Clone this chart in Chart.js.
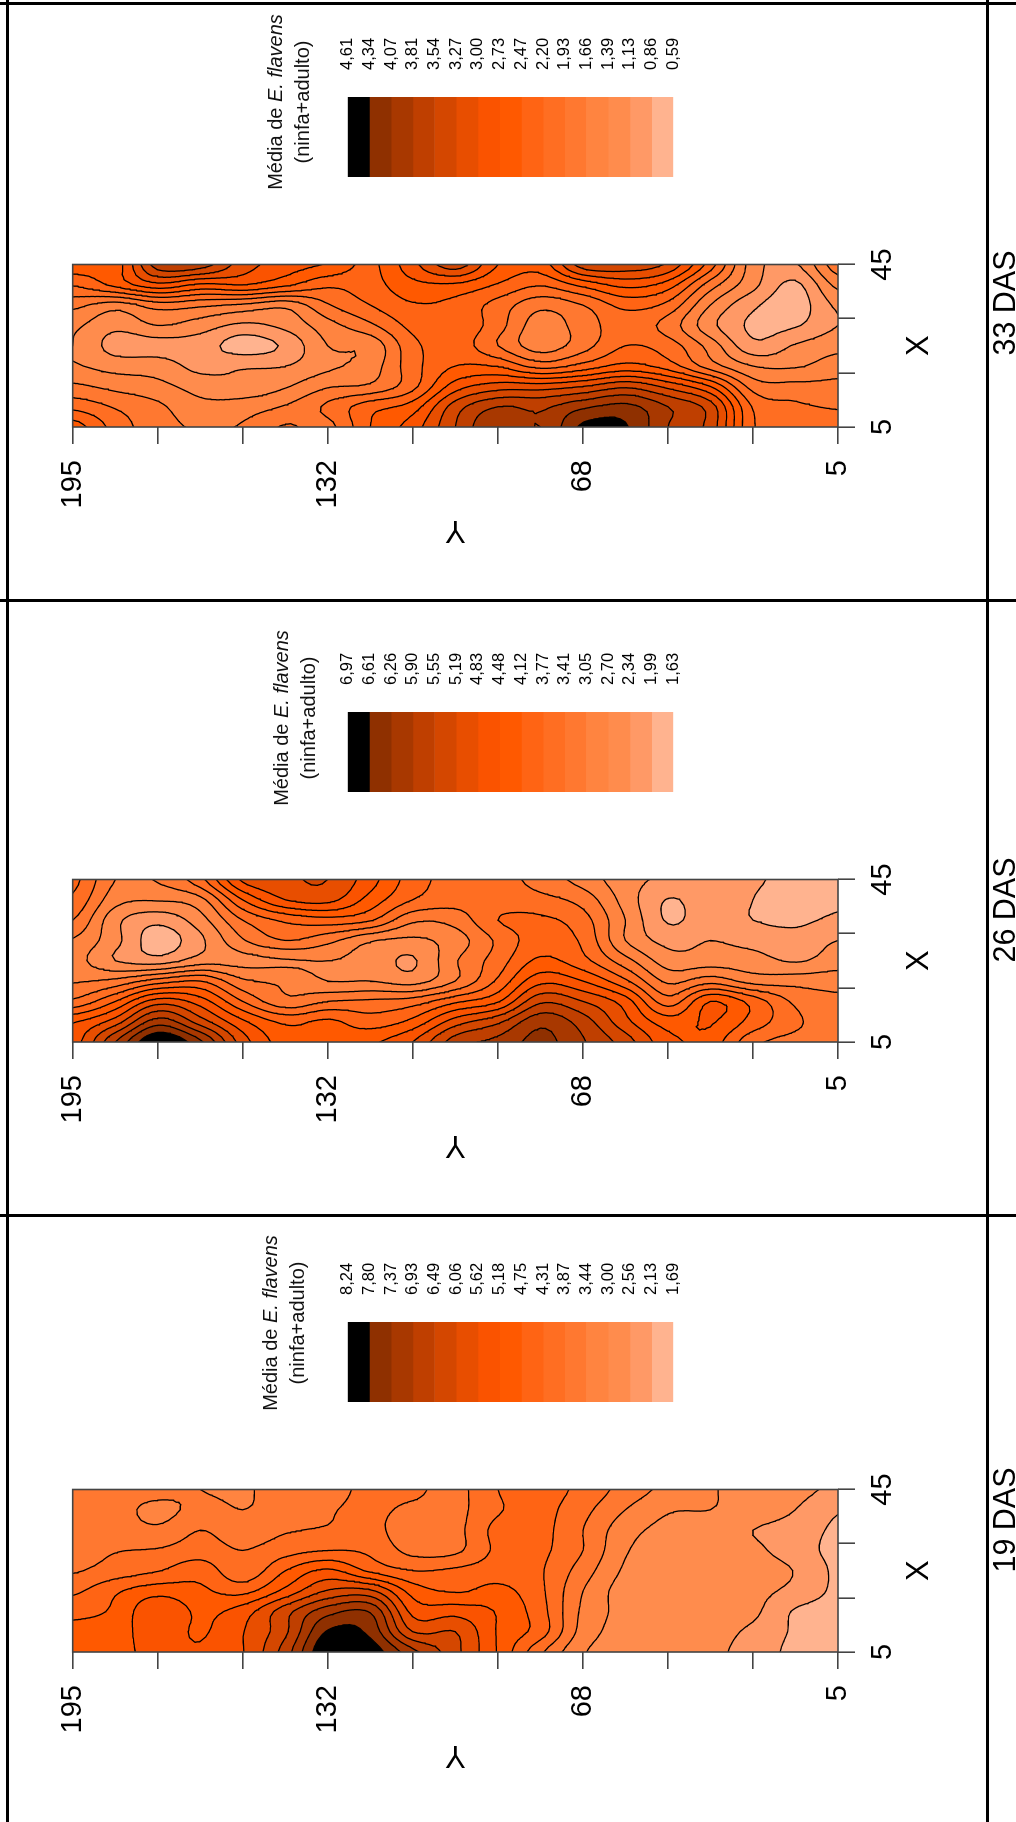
<!DOCTYPE html>
<html>
<head>
<meta charset="utf-8">
<title>Média de E. flavens</title>
<script src="https://cdn.jsdelivr.net/npm/chart.js@4/dist/chart.umd.min.js"></script>
<style>
    html, body { margin: 0; padding: 0; background: #fff; width: 1016px; height: 1822px; overflow: hidden; }
    #stage { position: absolute; left: 0; top: 0; width: 1822px; height: 1016px; transform-origin: 0 0; transform: translateY(1822px) rotate(-90deg); font-family: "Liberation Sans", Arial, sans-serif; color: #000; overflow: hidden; }
    #stage canvas { position: absolute; top: 0; }
    .rule { position: absolute; background: #000; }
    .legendTitle { position: absolute; width: 240px; text-align: center; font-size: 20px; line-height: 27px; color: #111; }
    .das { position: absolute; top: 987px; width: 200px; text-align: center; font-size: 30.5px; line-height: 34px; }
</style>
</head>
<body>
<div id="stage"></div>
<script>
// Station positions of the map grid
const xStations = [45, 40, 35, 30, 25, 20, 15, 10, 5];
const yStations = [195, 184.4, 173.9, 163.3, 152.8, 142.2, 131.7, 121.1, 110.6, 100, 89.4, 78.9, 68.3, 57.8, 47.2, 36.7, 26.1, 15.6, 5];

// Axis ticks
const xTicks = [5, 18.3, 31.7, 45];
const xTickLabels = [5, 45];
const yTicks = [195, 173.9, 152.8, 131.7, 110.6, 89.4, 68.3, 47.2, 26.1, 5];
const yTickLabels = [195, 132, 68, 5];

// Legend classes, black on top
const classColors = ['#000000', '#8f3000', '#a83800', '#bf3f00', '#d44700', '#e84e00', '#fa5300', '#ff5900', '#ff6414', '#ff6e22', '#ff7830', '#ff8440', '#ff8c4d', '#ff9966', '#ffb38f'];
const labels19 = ['8,24', '7,80', '7,37', '6,93', '6,49', '6,06', '5,62', '5,18', '4,75', '4,31', '3,87', '3,44', '3,00', '2,56', '2,13', '1,69'];
const labels26 = ['6,97', '6,61', '6,26', '5,90', '5,55', '5,19', '4,83', '4,48', '4,12', '3,77', '3,41', '3,05', '2,70', '2,34', '1,99', '1,63'];
const labels33 = ['4,61', '4,34', '4,07', '3,81', '3,54', '3,27', '3,00', '2,73', '2,47', '2,20', '1,93', '1,66', '1,39', '1,13', '0,86', '0,59'];

// Position on the legend scale (0 = lowest label, 15 = highest).
// One row per xStation, one column per yStation.
const das19 = [
    [4.5, 4.5, 4.4, 4.0, 3.9, 4.4, 4.7, 5.2, 5.2, 4.7, 6.0, 6.4, 5.7, 4.6, 3.7, 3.1, 2.6, 2.3, 1.8],
    [4.5, 4.4, 3.7, 4.3, 4.0, 4.4, 4.9, 5.2, 4.8, 4.7, 5.9, 6.3, 5.3, 4.0, 3.1, 3.0, 2.5, 2.0, 1.1],
    [4.6, 4.5, 4.2, 5.0, 4.4, 4.9, 5.1, 5.3, 4.4, 4.7, 6.3, 6.3, 5.0, 3.4, 2.7, 2.4, 2.0, 1.6, 0.8],
    [4.6, 4.95, 5.1, 5.5, 5.0, 5.6, 6.0, 5.8, 4.7, 4.8, 6.2, 6.2, 5.0, 3.1, 2.6, 2.4, 2.2, 1.5, 0.7],
    [4.9, 5.45, 5.95, 6.6, 5.3, 7.0, 8.2, 6.8, 6.0, 6.2, 6.5, 6.1, 4.5, 2.85, 2.55, 2.4, 2.5, 1.95, 0.8],
    [5.8, 6.85, 7.6, 7.2, 6.7, 8.3, 10.1, 10.2, 7.6, 6.9, 7.3, 6.2, 4.0, 2.6, 2.7, 2.5, 2.3, 1.7, 0.8],
    [6.7, 7.2, 8.9, 7.8, 8.5, 10.6, 12.6, 12.9, 8.7, 8.6, 7.9, 6.4, 3.8, 2.7, 2.5, 2.4, 2.2, 0.9, 0.6],
    [7.3, 7.6, 8.5, 7.9, 8.95, 10.8, 14.1, 13.7, 10, 10, 7.9, 6.5, 3.6, 2.6, 2.3, 2.3, 1.8, 0.85, 0.4],
    [7.5, 7.7, 8.3, 8.1, 8.95, 11.5, 15, 14.6, 12.3, 10.3, 7.9, 5.2, 3.1, 2.5, 2.3, 2.2, 1.6, 0.7, 0.3]
];
const das26 = [
    [6.3, 4.0, 4.1, 5.7, 9.2, 9.8, 10.0, 8.4, 6.5, 5.6, 5.4, 4.6, 3.6, 2.4, 1.8, 1.6, 1.15, 0.7, 0.6],
    [5.8, 3.4, 3.1, 3.7, 7.0, 9.0, 9.3, 7.6, 6.0, 5.4, 5.5, 5.3, 4.6, 2.6, 0.95, 1.6, 1.0, 0.5, 0.8],
    [5.0, 2.3, 1.3, 2.6, 5.0, 6.2, 6.6, 6.1, 4.2, 4.4, 6.0, 6.2, 5.4, 3.0, 0.9, 1.6, 1.0, 0.8, 1.2],
    [3.9, 2.3, 0.5, 1.8, 3.9, 5.0, 4.3, 3.1, 2.8, 3.5, 5.2, 6.5, 5.8, 3.0, 1.7, 2.0, 1.7, 1.4, 2.0],
    [3.4, 2.0, 1.5, 2.5, 2.7, 2.9, 3.0, 2.6, 1.9, 3.9, 5.5, 7.2, 6.3, 4.4, 2.5, 2.5, 2.4, 1.9, 2.5],
    [3.9, 4.3, 5.5, 6.0, 4.2, 3.8, 3.0, 3.0, 2.6, 4.0, 6.2, 8.7, 8.0, 6.2, 3.8, 4.6, 3.6, 3.6, 3.6],
    [5.2, 7.0, 9.5, 8.5, 6.0, 4.3, 5.0, 5.2, 5.5, 6.8, 7.9, 10.8, 10.0, 8.5, 5.5, 8.0, 6.6, 4.8, 4.2],
    [7.9, 9.5, 12.5, 10.5, 8.2, 6.8, 7.2, 6.5, 7.3, 9.5, 10.8, 12.7, 11.5, 9.3, 7.5, 8.1, 6.6, 5.2, 4.4],
    [8.5, 12, 15, 13.2, 9.5, 7.5, 7.2, 7.8, 9.0, 11.5, 12.3, 13.3, 12.1, 10.5, 8.3, 7.6, 5.3, 4.7, 4.9]
];
const das33 = [
    [7.6, 7.5, 11.5, 11.5, 9.5, 8.5, 7.9, 6.8, 8.7, 10.5, 8.0, 7.5, 10.5, 10.6, 9.8, 6.5, 2.5, 1.9, 4.6],
    [6.1, 7.3, 8.7, 7.8, 8.0, 7.2, 6.2, 6.6, 7.7, 7.8, 6.9, 6.1, 7.3, 8.3, 7.5, 4.5, 2.3, 0.8, 3.3],
    [4.3, 3.5, 4.5, 4.2, 3.8, 3.3, 4.9, 6.0, 6.9, 6.7, 5.6, 4.3, 5.0, 6.3, 5.7, 3.0, 1.2, 0.5, 2.2],
    [3.2, 2.3, 3.0, 2.5, 1.8, 2.3, 3.6, 4.8, 6.3, 6.8, 5.4, 3.5, 4.5, 5.5, 4.6, 2.3, 0.8, 0.9, 2.0],
    [3.0, 1.6, 1.6, 1.5, 0.5, 1.2, 3.0, 3.3, 5.7, 6.5, 5.0, 3.5, 4.6, 6.0, 5.5, 3.6, 1.3, 2.1, 2.7],
    [3.1, 2.6, 2.5, 1.7, 1.9, 2.0, 2.8, 3.5, 5.6, 7.0, 6.9, 5.6, 6.4, 7.3, 6.5, 4.5, 3.0, 2.9, 3.5],
    [4.2, 3.7, 3.3, 2.6, 2.3, 2.9, 3.9, 4.2, 5.7, 8.5, 9.5, 9.5, 10.0, 10.8, 9.7, 8.0, 4.6, 4.3, 4.3],
    [5.7, 4.9, 4.2, 3.3, 3.5, 4.1, 5.2, 6.6, 7.5, 10.5, 12.0, 11.8, 12.8, 13.3, 12.0, 10.5, 5.9, 5.2, 4.9],
    [7.5, 5.6, 4.4, 3.9, 4.1, 5.1, 4.7, 7.0, 8.5, 11.0, 13.0, 12.0, 14.2, 14.1, 12.0, 10.6, 6.1, 5.7, 5.5]
];

const panels = [
    { name: '19 DAS', grid: das19, labels: labels19, plotLeft: 170, titleX: 499, titleTop: 257, dasX: 302 },
    { name: '26 DAS', grid: das26, labels: labels26, plotLeft: 780, titleX: 1104, titleTop: 268, dasX: 912 },
    { name: '33 DAS', grid: das33, labels: labels33, plotLeft: 1395, titleX: 1720, titleTop: 262, dasX: 1519 }
];

const stage = document.getElementById('stage');
const axisColor = '#444444';
const fontFamily = '"Liberation Sans", Arial, sans-serif';

function catmull(p0, p1, p2, p3, t) {
    return p1 + 0.5 * t * (p2 - p0 + t * (2 * p0 - 5 * p1 + 4 * p2 - p3 + t * (3 * (p1 - p2) + p3 - p0)));
}

// Smooth the station grid so contours do not come out angular
function refine(grid, subRow, subCol) {
    const rows = grid.length, cols = grid[0].length;
    const at = (r, c) => grid[Math.max(0, Math.min(rows - 1, r))][Math.max(0, Math.min(cols - 1, c))];
    const out = [];
    for (let r = 0; r <= (rows - 1) * subRow; r++) {
        const r0 = Math.min(Math.floor(r / subRow), rows - 2), tr = r / subRow - r0;
        const row = [];
        for (let c = 0; c <= (cols - 1) * subCol; c++) {
            const c0 = Math.min(Math.floor(c / subCol), cols - 2), tc = c / subCol - c0;
            const k = [-1, 0, 1, 2].map(dr => catmull(at(r0 + dr, c0 - 1), at(r0 + dr, c0), at(r0 + dr, c0 + 1), at(r0 + dr, c0 + 2), tc));
            row.push({
                x: xStations[r0] + (xStations[r0 + 1] - xStations[r0]) * tr,
                y: yStations[c0] + (yStations[c0 + 1] - yStations[c0]) * tc,
                v: catmull(k[0], k[1], k[2], k[3], tr) + 1e-5
            });
        }
        out.push(row);
    }
    return out;
}

function eachTriangle(fine, fn) {
    for (let r = 0; r < fine.length - 1; r++) {
        for (let c = 0; c < fine[0].length - 1; c++) {
            const a = fine[r][c], b = fine[r][c + 1], d = fine[r + 1][c], e = fine[r + 1][c + 1];
            fn(a, b, e);
            fn(a, e, d);
        }
    }
}

function crossing(p, q, level) {
    const t = (level - p.v) / (q.v - p.v);
    return { x: p.x + (q.x - p.x) * t, y: p.y + (q.y - p.y) * t };
}

// One broken line per legend boundary
function contourDatasets(fine) {
    const sets = [];
    for (let level = 1; level < 15; level++) sets.push([]);
    eachTriangle(fine, (a, b, c) => {
        const lo = Math.min(a.v, b.v, c.v), hi = Math.max(a.v, b.v, c.v);
        for (let level = Math.max(1, Math.ceil(lo)); level <= Math.min(14, Math.floor(hi)); level++) {
            const pts = [];
            [[a, b], [b, c], [c, a]].forEach(([p, q]) => {
                if ((p.v < level) !== (q.v < level)) pts.push(crossing(p, q, level));
            });
            if (pts.length === 2) sets[level - 1].push(pts[0], pts[1], { x: NaN, y: NaN });
        }
    });
    return sets.map((data, i) => ({
        label: 'contour ' + (i + 1),
        data: data,
        showLine: true,
        pointRadius: 0,
        borderColor: '#000000',
        borderWidth: 1.3,
        borderCapStyle: 'round',
        borderJoinStyle: 'round',
        spanGaps: false
    }));
}

// Colour bands under the contour lines, lowest class first
function bandPlugin(fine) {
    return {
        id: 'bands',
        beforeDatasetsDraw(chart) {
            const { ctx, chartArea, scales } = chart;
            const px = p => [scales.x.getPixelForValue(p.x), scales.y.getPixelForValue(p.y)];
            ctx.save();
            ctx.beginPath();
            ctx.rect(chartArea.left, chartArea.top, chartArea.width, chartArea.height);
            ctx.clip();
            ctx.fillStyle = classColors[14];
            ctx.fillRect(chartArea.left, chartArea.top, chartArea.width, chartArea.height);
            for (let level = 1; level < 15; level++) {
                ctx.beginPath();
                eachTriangle(fine, (a, b, c) => {
                    if (Math.max(a.v, b.v, c.v) < level) return;
                    const poly = [];
                    [[a, b], [b, c], [c, a]].forEach(([p, q]) => {
                        if (p.v >= level) poly.push(p);
                        if ((p.v < level) !== (q.v < level)) poly.push(crossing(p, q, level));
                    });
                    poly.forEach((p, i) => {
                        const [x, y] = px(p);
                        if (i === 0) ctx.moveTo(x, y); else ctx.lineTo(x, y);
                    });
                    ctx.closePath();
                });
                ctx.fillStyle = classColors[14 - level];
                ctx.fill();
            }
            ctx.restore();
        },
        afterDatasetsDraw(chart) {
            const { ctx, chartArea } = chart;
            ctx.save();
            ctx.strokeStyle = axisColor;
            ctx.lineWidth = 1.6;
            ctx.strokeRect(chartArea.left, chartArea.top, chartArea.width, chartArea.height);
            ctx.restore();
        }
    };
}

function drawMap(panel) {
    const canvas = document.createElement('canvas');
    canvas.width = 400;
    canvas.height = 1016;
    canvas.style.left = (panel.plotLeft - 170) + 'px';
    stage.appendChild(canvas);
    const fine = refine(panel.grid, 4, 8);
    new Chart(canvas, {
        type: 'scatter',
        data: { datasets: contourDatasets(fine) },
        plugins: [bandPlugin(fine)],
        options: {
            responsive: false,
            animation: false,
            events: [],
            layout: { padding: { left: 20, right: 67.5, top: 72.7, bottom: 78 } },
            plugins: { legend: { display: false }, tooltip: { enabled: false } },
            scales: {
                x: {
                    type: 'linear',
                    min: 5,
                    max: 45,
                    afterBuildTicks: s => { s.ticks = xTicks.map(v => ({ value: v })); },
                    afterFit: s => { s.height = 100; },
                    grid: { drawOnChartArea: false, color: axisColor, lineWidth: 1.6, tickLength: 17 },
                    border: { display: false },
                    title: { display: true, text: 'X', color: '#000', padding: 0, font: { family: fontFamily, size: 31 } },
                    ticks: {
                        color: '#000',
                        padding: 11,
                        maxRotation: 0,
                        autoSkip: false,
                        font: { family: fontFamily, size: 29 },
                        callback: v => xTickLabels.includes(v) ? String(v) : ''
                    }
                },
                y: {
                    type: 'linear',
                    min: 5,
                    max: 195,
                    afterBuildTicks: s => { s.ticks = yTicks.map(v => ({ value: v })); },
                    afterFit: s => { s.width = 150; },
                    grid: { drawOnChartArea: false, color: axisColor, lineWidth: 1.6, tickLength: 17 },
                    border: { display: false },
                    title: { display: true, text: 'Y', color: '#000', padding: { top: 29, bottom: 0 }, font: { family: fontFamily, size: 31 } },
                    ticks: {
                        color: '#000',
                        padding: 16,
                        autoSkip: false,
                        font: { family: fontFamily, size: 29 },
                        callback: v => yTickLabels.includes(Math.round(v)) ? String(Math.round(v)) : ''
                    }
                }
            }
        }
    });
}

function drawLegend(panel) {
    const canvas = document.createElement('canvas');
    canvas.width = 180;
    canvas.height = 420;
    canvas.style.left = (panel.plotLeft + 240) + 'px';
    canvas.style.top = '300px';
    stage.appendChild(canvas);
    new Chart(canvas, {
        type: 'bar',
        data: {
            labels: [''],
            datasets: classColors.map(color => ({ data: [1], backgroundColor: color, borderWidth: 0 }))
        },
        options: {
            responsive: false,
            animation: false,
            events: [],
            // tick padding also counts at both ends of a vertical scale, so keep these above it
            layout: { padding: { left: 10, right: 0, top: 47.7, bottom: 46.7 } },
            plugins: { legend: { display: false }, tooltip: { enabled: false } },
            datasets: { bar: { barPercentage: 1, categoryPercentage: 1 } },
            scales: {
                x: { stacked: true, display: false, ticks: { display: false } },
                y: {
                    type: 'linear',
                    stacked: true,
                    position: 'right',
                    reverse: true,
                    min: 0,
                    max: 15,
                    afterFit: s => { s.width = 90; },
                    grid: { display: false, drawTicks: false },
                    border: { display: false },
                    ticks: {
                        stepSize: 1,
                        color: '#000',
                        padding: 27,
                        autoSkip: false,
                        font: { family: fontFamily, size: 16.5 },
                        callback: v => panel.labels[v]
                    }
                }
            }
        }
    });
}

function addRule(left, top, width, height) {
    const d = document.createElement('div');
    d.className = 'rule';
    d.style.cssText = 'left:' + left + 'px;top:' + top + 'px;width:' + width + 'px;height:' + height + 'px';
    stage.appendChild(d);
}

// Table lines of the figure
addRule(0, 6, 1822, 2.5);
addRule(0, 986, 1822, 2.5);
addRule(605, 0, 2.5, 1016);
addRule(1220, 0, 2.5, 1016);
addRule(1817, 0, 2.5, 1016);

panels.forEach(panel => {
    drawMap(panel);
    drawLegend(panel);

    const title = document.createElement('div');
    title.className = 'legendTitle';
    title.style.left = (panel.titleX - 120) + 'px';
    title.style.top = panel.titleTop + 'px';
    title.innerHTML = 'Média de <i>E. flavens</i><br>(ninfa+adulto)';
    stage.appendChild(title);

    const das = document.createElement('div');
    das.className = 'das';
    das.style.left = (panel.dasX - 100) + 'px';
    das.textContent = panel.name;
    stage.appendChild(das);
});
</script>
</body>
</html>
